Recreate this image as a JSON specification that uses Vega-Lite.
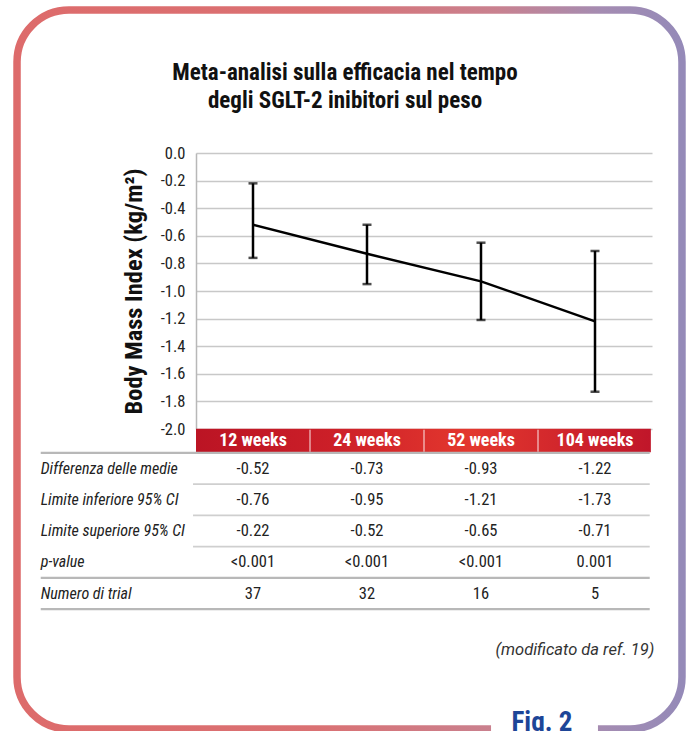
{
  "$schema": "https://vega.github.io/schema/vega-lite/v6.json",
  "width": 456,
  "height": 276,
  "autosize": {"type": "none"},
  "padding": {"left": 196, "top": 153, "right": 37, "bottom": 302},
  "background": "white",
  "datasets": {
    "weeks": [
      {"week": "12 weeks", "col": 1, "mean": -0.52, "lower": -0.76, "upper": -0.22, "p": "<0.001", "trials": 37},
      {"week": "24 weeks", "col": 2, "mean": -0.73, "lower": -0.95, "upper": -0.52, "p": "<0.001", "trials": 32},
      {"week": "52 weeks", "col": 3, "mean": -0.93, "lower": -1.21, "upper": -0.65, "p": "<0.001", "trials": 16},
      {"week": "104 weeks", "col": 4, "mean": -1.22, "lower": -1.73, "upper": -0.71, "p": "0.001", "trials": 5}
    ],
    "rows": [
      {"key": "mean", "row": 1, "label": "Differenza delle medie"},
      {"key": "lower", "row": 2, "label": "Limite inferiore 95% CI"},
      {"key": "upper", "row": 3, "label": "Limite superiore 95% CI"},
      {"key": "p", "row": 4, "label": "p-value"},
      {"key": "trials", "row": 5, "label": "Numero di trial"}
    ]
  },
  "resolve": {"scale": {"y": "independent"}},
  "layer": [
    {
      "layer": [
        {
          "data": {"values": [{"item": "frame"}]},
          "mark": {
            "type": "rect",
            "fill": "transparent",
            "strokeWidth": 7.5,
            "cornerRadius": 52,
            "stroke": {
              "gradient": "linear",
              "x1": 0, "y1": 0, "x2": 1, "y2": 0,
              "stops": [
                {"offset": 0, "color": "#dd6b6b"},
                {"offset": 0.45, "color": "#da7173"},
                {"offset": 0.72, "color": "#c9818f"},
                {"offset": 0.88, "color": "#a48cb2"},
                {"offset": 1, "color": "#958ab8"}
              ]
            }
          },
          "encoding": {
            "x": {"datum": -1.07, "type": "quantitative", "scale": {"domain": [0.5, 4.5]}, "axis": null},
            "x2": {"datum": 4.763},
            "y": {"datum": -13.672, "type": "quantitative", "scale": {"domain": [-9.096, -0.264], "reverse": true}, "axis": null},
            "y2": {"datum": 9.336}
          }
        },
        {
          "data": {"values": [{"title": ["Meta-analisi sulla efficacia nel tempo", "degli SGLT-2 inibitori sul peso"]}]},
          "mark": {"type": "text", "font": "Roboto Condensed", "fontSize": 23, "fontWeight": "bold", "color": "#111111", "align": "center", "baseline": "middle", "lineHeight": 28},
          "encoding": {
            "x": {"datum": 1.807, "type": "quantitative", "scale": {"domain": [0.5, 4.5]}, "axis": null},
            "y": {"datum": -11.66, "type": "quantitative", "scale": {"domain": [-9.096, -0.264], "reverse": true}, "axis": null},
            "text": {"field": "title"}
          }
        },
        {
          "data": {"values": [{"item": "gap"}]},
          "mark": {"type": "rect", "fill": "white", "stroke": null},
          "encoding": {
            "x": {"datum": 3.088, "type": "quantitative", "scale": {"domain": [0.5, 4.5]}, "axis": null},
            "x2": {"datum": 4.026},
            "y": {"datum": 8.95, "type": "quantitative", "scale": {"domain": [-9.096, -0.264], "reverse": true}, "axis": null},
            "y2": {"datum": 9.9}
          }
        },
        {
          "data": {"values": [{"label": "Fig. 2"}]},
          "mark": {"type": "text", "font": "Roboto Condensed", "fontSize": 27, "fontWeight": "bold", "color": "#1d4597", "align": "center", "baseline": "alphabetic"},
          "encoding": {
            "x": {"datum": 3.535, "type": "quantitative", "scale": {"domain": [0.5, 4.5]}, "axis": null},
            "y": {"datum": 9.4, "type": "quantitative", "scale": {"domain": [-9.096, -0.264], "reverse": true}, "axis": null},
            "text": {"field": "label"}
          }
        },
        {
          "data": {"values": [{"item": "header"}]},
          "mark": {
            "type": "rect",
            "stroke": null,
            "fill": {
              "gradient": "linear",
              "x1": 0, "y1": 0, "x2": 1, "y2": 0,
              "stops": [
                {"offset": 0, "color": "#bb1424"},
                {"offset": 0.3, "color": "#cc1f28"},
                {"offset": 0.6, "color": "#e3372e"},
                {"offset": 1, "color": "#c0162a"}
              ]
            }
          },
          "encoding": {
            "x": {"datum": 0.5, "type": "quantitative", "scale": {"domain": [0.5, 4.5]}, "axis": null},
            "x2": {"datum": 4.49},
            "y": {"datum": -0.27, "type": "quantitative", "scale": {"domain": [-9.096, -0.264], "reverse": true}, "axis": null},
            "y2": {"datum": 0.48}
          }
        },
        {
          "data": {"values": [{"c": 1.5}, {"c": 2.5}, {"c": 3.5}]},
          "mark": {"type": "rule", "color": "white", "strokeWidth": 1.2, "opacity": 0.75},
          "encoding": {
            "x": {"field": "c", "type": "quantitative", "scale": {"domain": [0.5, 4.5]}, "axis": null},
            "y": {"datum": -0.24, "type": "quantitative", "scale": {"domain": [-9.096, -0.264], "reverse": true}, "axis": null},
            "y2": {"datum": 0.46}
          }
        },
        {
          "data": {"name": "weeks"},
          "mark": {"type": "text", "font": "Roboto Condensed", "fontSize": 18, "fontWeight": "bold", "color": "white", "align": "center", "baseline": "middle"},
          "encoding": {
            "x": {"field": "col", "type": "quantitative", "scale": {"domain": [0.5, 4.5]}, "axis": null},
            "y": {"datum": 0.12, "type": "quantitative", "scale": {"domain": [-9.096, -0.264], "reverse": true}, "axis": null},
            "text": {"field": "week", "type": "nominal"}
          }
        },
        {
          "data": {"values": [{"r": 1.5}, {"r": 2.5}, {"r": 3.5}]},
          "mark": {"type": "rule", "color": "#cfcfcf", "strokeWidth": 1.6},
          "encoding": {
            "x": {"datum": 0.474, "type": "quantitative", "scale": {"domain": [0.5, 4.5]}, "axis": null},
            "x2": {"datum": 4.48},
            "y": {"field": "r", "type": "quantitative", "scale": {"domain": [-9.096, -0.264], "reverse": true}, "axis": null}
          }
        },
        {
          "data": {"values": [{"r": 0.5}, {"r": 4.5}, {"r": 5.5}]},
          "mark": {"type": "rule", "color": "#b8b8b8", "strokeWidth": 2.4},
          "encoding": {
            "x": {"datum": -0.862, "type": "quantitative", "scale": {"domain": [0.5, 4.5]}, "axis": null},
            "x2": {"datum": 4.48},
            "y": {"field": "r", "type": "quantitative", "scale": {"domain": [-9.096, -0.264], "reverse": true}, "axis": null}
          }
        },
        {
          "data": {"name": "rows"},
          "mark": {"type": "text", "font": "Roboto Condensed", "fontSize": 16, "fontStyle": "italic", "color": "#222222", "align": "left", "baseline": "middle"},
          "encoding": {
            "x": {"datum": -0.862, "type": "quantitative", "scale": {"domain": [0.5, 4.5]}, "axis": null},
            "y": {"field": "row", "type": "quantitative", "scale": {"domain": [-9.096, -0.264], "reverse": true}, "axis": null},
            "text": {"field": "label", "type": "nominal"}
          }
        },
        {
          "data": {"name": "weeks"},
          "transform": [
            {"fold": ["mean", "lower", "upper", "p", "trials"], "as": ["key", "val"]},
            {"lookup": "key", "from": {"data": {"name": "rows"}, "key": "key", "fields": ["row"]}}
          ],
          "mark": {"type": "text", "font": "Roboto Condensed", "fontSize": 16.5, "color": "#222222", "align": "center", "baseline": "middle"},
          "encoding": {
            "x": {"field": "col", "type": "quantitative", "scale": {"domain": [0.5, 4.5]}, "axis": null},
            "y": {"field": "row", "type": "quantitative", "scale": {"domain": [-9.096, -0.264], "reverse": true}, "axis": null},
            "text": {"field": "val", "type": "nominal"}
          }
        },
        {
          "data": {"values": [{"note": "(modificato da ref. 19)"}]},
          "mark": {"type": "text", "font": "Roboto", "fontSize": 16.5, "fontStyle": "italic", "color": "#333333", "align": "right", "baseline": "middle"},
          "encoding": {
            "x": {"datum": 4.52, "type": "quantitative", "scale": {"domain": [0.5, 4.5]}, "axis": null},
            "y": {"datum": 6.81, "type": "quantitative", "scale": {"domain": [-9.096, -0.264], "reverse": true}, "axis": null},
            "text": {"field": "note"}
          }
        }
      ]
    },
    {
      "data": {"name": "weeks"},
      "layer": [
        {
          "mark": {"type": "rule", "color": "#000000", "strokeWidth": 2.5},
          "encoding": {
            "x": {"field": "col", "type": "quantitative", "scale": {"domain": [0.5, 4.5]}, "axis": null},
            "y": {
              "field": "lower",
              "type": "quantitative",
              "scale": {"domain": [-2, 0], "nice": false},
              "axis": {
                "orient": "left",
                "values": [0, -0.2, -0.4, -0.6, -0.8, -1, -1.2, -1.4, -1.6, -1.8, -2],
                "labelExpr": "replace(format(datum.value, '.1f'), '\u2212', '-')",
                "labelFont": "Roboto Condensed",
                "labelFontSize": 16.5,
                "labelColor": "#222222",
                "labelPadding": 11,
                "ticks": false,
                "domainColor": "#b8b8b8",
                "domainWidth": 1.5,
                "grid": true,
                "gridColor": "#c8c8c8",
                "gridWidth": 1.6,
                "title": "Body Mass Index (kg/m²)",
                "titleFont": "Roboto Condensed",
                "titleFontSize": 24.5,
                "titleFontWeight": "bold",
                "titleColor": "#111111",
                "titlePadding": 14
              }
            },
            "y2": {"field": "upper"}
          }
        },
        {
          "transform": [{"fold": ["lower", "upper"], "as": ["bound", "v"]}],
          "mark": {"type": "tick", "orient": "horizontal", "color": "#000000", "size": 9, "thickness": 2.5},
          "encoding": {
            "x": {"field": "col", "type": "quantitative", "scale": {"domain": [0.5, 4.5]}, "axis": null},
            "y": {
              "field": "v",
              "type": "quantitative",
              "scale": {"domain": [-2, 0], "nice": false},
              "axis": {
                "orient": "left",
                "values": [0, -0.2, -0.4, -0.6, -0.8, -1, -1.2, -1.4, -1.6, -1.8, -2],
                "labelExpr": "replace(format(datum.value, '.1f'), '\u2212', '-')",
                "labelFont": "Roboto Condensed",
                "labelFontSize": 16.5,
                "labelColor": "#222222",
                "labelPadding": 11,
                "ticks": false,
                "domainColor": "#b8b8b8",
                "domainWidth": 1.5,
                "grid": true,
                "gridColor": "#c8c8c8",
                "gridWidth": 1.6,
                "title": "Body Mass Index (kg/m²)",
                "titleFont": "Roboto Condensed",
                "titleFontSize": 24.5,
                "titleFontWeight": "bold",
                "titleColor": "#111111",
                "titlePadding": 14
              }
            }
          }
        },
        {
          "mark": {"type": "line", "color": "#000000", "strokeWidth": 2.4},
          "encoding": {
            "x": {"field": "col", "type": "quantitative", "scale": {"domain": [0.5, 4.5]}, "axis": null},
            "y": {
              "field": "mean",
              "type": "quantitative",
              "scale": {"domain": [-2, 0], "nice": false},
              "axis": {
                "orient": "left",
                "values": [0, -0.2, -0.4, -0.6, -0.8, -1, -1.2, -1.4, -1.6, -1.8, -2],
                "labelExpr": "replace(format(datum.value, '.1f'), '\u2212', '-')",
                "labelFont": "Roboto Condensed",
                "labelFontSize": 16.5,
                "labelColor": "#222222",
                "labelPadding": 11,
                "ticks": false,
                "domainColor": "#b8b8b8",
                "domainWidth": 1.5,
                "grid": true,
                "gridColor": "#c8c8c8",
                "gridWidth": 1.6,
                "title": "Body Mass Index (kg/m²)",
                "titleFont": "Roboto Condensed",
                "titleFontSize": 24.5,
                "titleFontWeight": "bold",
                "titleColor": "#111111",
                "titlePadding": 14
              }
            }
          }
        }
      ]
    }
  ],
  "config": {
    "font": "Roboto Condensed",
    "view": {"stroke": null}
  }
}
